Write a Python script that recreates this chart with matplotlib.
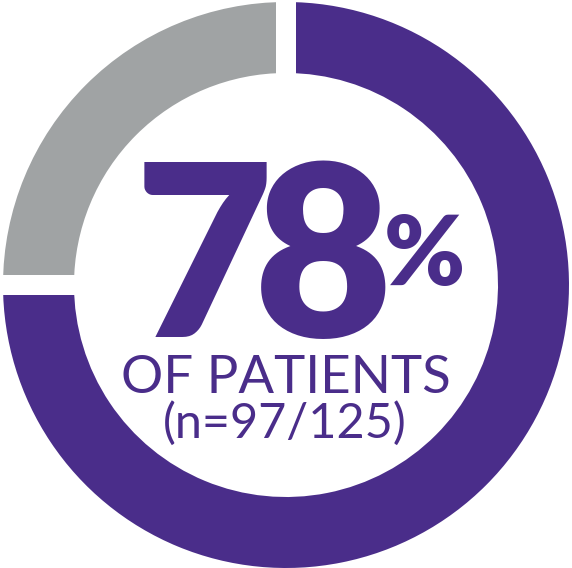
import matplotlib
matplotlib.use("Agg")
from matplotlib import pyplot as plt

# arc shares as drawn in the picture (purple part, gray part)
labels = ["patients", "rest"]
shares = [75, 25]
colors = ["#4A2D8A", "#A0A3A4"]

pct_text = "78"
line1 = "OF PATIENTS"
line2 = "(n=97/125)"

W, H = 572, 568
fig = plt.figure(figsize=(W / 100, H / 100), dpi=100)
ax = fig.add_axes([0, 0, 1, 1])

cx, cy = 286, H - 285
gap = 20  # px, white gap between segments
lw = gap * 72 / 100
r_out = 283 + gap / 2
r_in = 212 - gap / 2

ax.pie(shares, colors=colors, startangle=90, counterclock=False,
       radius=r_out, center=(cx, cy), frame=True,
       wedgeprops=dict(width=r_out - r_in, edgecolor="white", linewidth=lw))
ax.set_xlim(0, W)
ax.set_ylim(0, H)
ax.set_aspect("equal")
ax.axis("off")

purple = colors[0]
# the big digits are set one by one so they sit tight like the original
digit_x = [204, 323]
for ch, x in zip(pct_text, digit_x):
    ax.text(x, H - 337, ch, ha="center", va="baseline", color=purple,
            fontsize=172, fontweight="heavy", family="Lato")
ax.text(424, H - 285, "%", ha="center", va="baseline", color=purple,
        fontsize=70, fontweight="heavy", family="Lato")
ax.text(286, H - 393, line1, ha="center", va="baseline", color=purple,
        fontsize=38, family="Lato")
ax.text(285, H - 438, line2, ha="center", va="baseline", color=purple,
        fontsize=35, family="Lato")

fig.savefig("out.png", dpi=100)
